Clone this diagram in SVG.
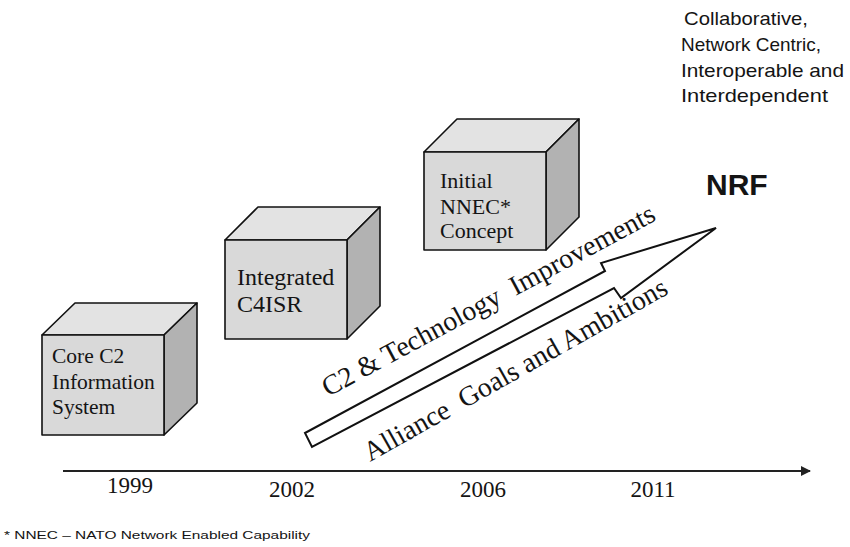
<svg xmlns="http://www.w3.org/2000/svg" width="850" height="547" viewBox="0 0 850 547">
<defs>
<style>
.front{fill:#d9d9d9;stroke:#111;stroke-width:1.6;stroke-linejoin:round}
.top{fill:#e3e3e3;stroke:#111;stroke-width:1.6;stroke-linejoin:round}
.side{fill:#b2b2b2;stroke:#111;stroke-width:1.6;stroke-linejoin:round}
.serif{font-family:"Liberation Serif","Times New Roman",serif;fill:#141414}
.sans{font-family:"Liberation Sans",Arial,sans-serif;fill:#141414}
</style>
<marker id="axhead" viewBox="0 0 10 10" refX="9" refY="5" markerWidth="5" markerHeight="5" orient="auto" markerUnits="strokeWidth">
<path d="M0,0 L10,5 L0,10 z" fill="#222"/>
</marker>
</defs>
<rect width="850" height="547" fill="#fff"/>

<g id="cube-1999">
<polygon class="top" points="42,335 75,303 197,303 164,335"/>
<polygon class="side" points="164,335 197,303 197,403 164,435"/>
<rect class="front" x="42" y="335" width="122" height="100"/>
<text class="serif" font-size="21.5" x="52" y="363">Core C2</text>
<text class="serif" font-size="21.5" x="52" y="389">Information</text>
<text class="serif" font-size="21.5" x="52" y="414">System</text>
</g>

<g id="cube-2002">
<polygon class="top" points="225,240 258,207 380,207 347,240"/>
<polygon class="side" points="347,240 380,207 380,306 347,339"/>
<rect class="front" x="225" y="240" width="122" height="99"/>
<text class="serif" font-size="24" x="237" y="285">Integrated</text>
<text class="serif" font-size="24" x="237" y="312">C4ISR</text>
</g>

<g id="cube-2006">
<polygon class="top" points="424,152 457,119 579,119 546,152"/>
<polygon class="side" points="546,152 579,119 579,217 546,250"/>
<rect class="front" x="424" y="152" width="122" height="98"/>
<text class="serif" font-size="22" x="440" y="188">Initial</text>
<text class="serif" font-size="22" x="440" y="214">NNEC*</text>
<text class="serif" font-size="22" x="440" y="238">Concept</text>
</g>

<g id="connectors">
<polygon id="progress-arrow" points="305,433 605,271 601,263 716,228 621,298 614,288 312,447" fill="#fff" stroke="#111" stroke-width="2" stroke-linejoin="miter"/>
<line id="timeline" x1="63" y1="471" x2="810" y2="471" stroke="#222" stroke-width="2" marker-end="url(#axhead)"/>
</g>

<g id="arrow-labels">
<text class="serif" font-size="28" transform="translate(328,397) rotate(-28.3)" textLength="374" lengthAdjust="spacingAndGlyphs" xml:space="preserve">C2 &amp; Technology  Improvements</text>
<text class="serif" font-size="28" transform="translate(370,462) rotate(-29.4)" textLength="344" lengthAdjust="spacingAndGlyphs" xml:space="preserve">Alliance  Goals and Ambitions</text>
</g>

<g id="years">
<text class="serif" font-size="23" x="130" y="493" text-anchor="middle">1999</text>
<text class="serif" font-size="23" x="292" y="497" text-anchor="middle">2002</text>
<text class="serif" font-size="23" x="483" y="497" text-anchor="middle">2006</text>
<text class="serif" font-size="23" x="653" y="497" text-anchor="middle">2011</text>
</g>

<g id="goal">
<text class="sans" font-size="19" x="684" y="25" textLength="124" lengthAdjust="spacingAndGlyphs">Collaborative,</text>
<text class="sans" font-size="19" x="681" y="51" textLength="140" lengthAdjust="spacingAndGlyphs">Network Centric,</text>
<text class="sans" font-size="19" x="681" y="77" textLength="163" lengthAdjust="spacingAndGlyphs">Interoperable and</text>
<text class="sans" font-size="19" x="681" y="102" textLength="147" lengthAdjust="spacingAndGlyphs">Interdependent</text>
<text class="sans" font-size="30" font-weight="bold" x="706" y="195" fill="#000">NRF</text>
</g>

<g id="footnote">
<text class="sans" font-size="10.5" x="4" y="539" textLength="306" lengthAdjust="spacingAndGlyphs">*  NNEC – NATO Network Enabled Capability</text>
</g>
</svg>
